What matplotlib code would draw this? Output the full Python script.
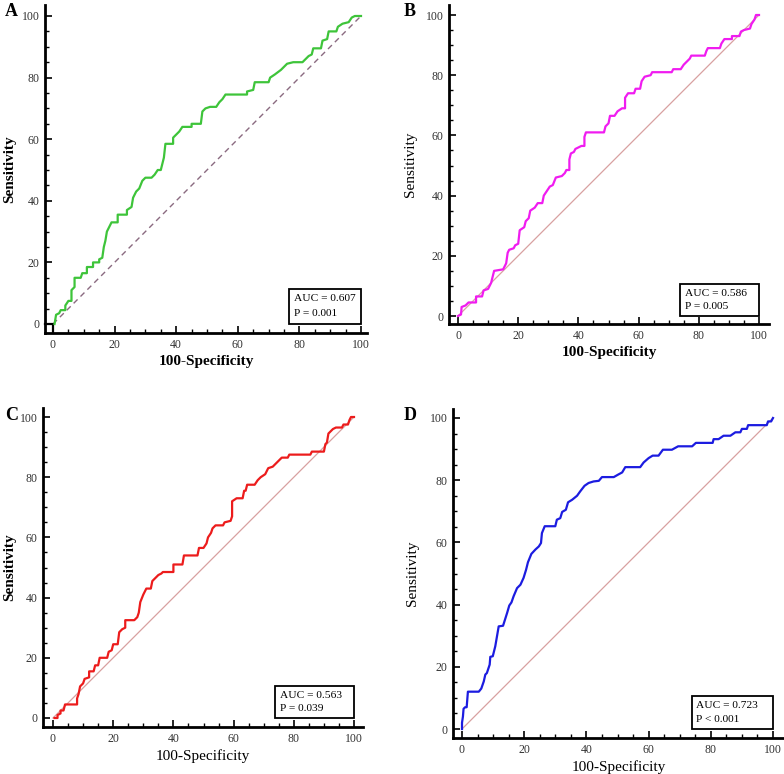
import matplotlib
matplotlib.use("Agg")
import matplotlib.pyplot as plt
from matplotlib.patches import Rectangle
from matplotlib.ticker import MultipleLocator

plt.rcParams['font.family'] = ['Liberation Serif', 'DejaVu Serif']

# Panel A - green ROC curve (100-Specificity, Sensitivity)
a_x = [0.5, 1, 2, 2.5, 4, 4, 5, 6, 6, 7, 7, 9, 9.5, 11, 11, 13, 13, 15, 15, 16, 16.5, 17, 17.5, 18.5, 19, 21, 21,
       24, 24, 25.5, 26, 27, 28, 29, 30, 32, 33, 34, 35, 36, 36.5, 39, 39, 40, 41, 42, 45, 45, 48, 48.5, 49.5, 51,
       53, 54, 55, 56, 63, 63, 65, 65.5, 70, 70.5, 72, 74, 75, 76, 78, 81, 82, 83, 84, 84.5, 87, 87.5, 89, 89.5,
       92, 92.5, 94, 96, 97, 98, 100]
a_y = [0, 3, 3.5, 4.5, 4.5, 6, 7.5, 7.5, 11, 12, 15, 15, 16.5, 16.5, 18.5, 18.5, 20, 20, 21, 21.5, 25, 27, 30, 32,
       33, 33, 35.5, 35.5, 37, 38, 41, 43, 44, 46.5, 47.5, 47.5, 48.5, 50, 50, 54, 58.5, 58.5, 60.5, 61.5, 62.5,
       64, 64, 65, 65, 69, 70, 70.5, 70.5, 72, 73, 74.5, 74.5, 75.5, 76, 78.5, 78.5, 80, 81, 82.5, 83.5, 84.5, 85,
       85, 86, 87, 87.5, 89.5, 89.5, 92, 92.5, 95, 95, 96.5, 97.5, 98, 99.5, 100, 100]

# Panel B - magenta ROC curve
b_x = [0, 1, 1.2, 2.5, 3, 3.5, 6, 6, 8, 8.5, 10, 11, 11.5, 12, 15, 15.5, 16, 16.5, 17, 18.5, 19, 20, 20.5, 22,
       22.5, 23.5, 24, 25.5, 26.5, 28, 28.5, 29.5, 30.5, 31.5, 32.5, 34.5, 35.5, 36, 37, 37, 37.5, 38.5, 39, 40,
       41, 42, 42, 42.5, 48.5, 49, 50, 50.5, 52, 53, 54.5, 55.5, 55.5, 56.5, 58.5, 59, 60.5, 61, 62, 64, 64.5,
       71, 71.5, 74, 75, 76, 77, 77.5, 82, 82.5, 83, 87, 87.5, 88.5, 91, 91, 93.5, 94, 95, 97, 97.5, 98.5, 99, 100]
b_y = [0, 0.5, 3, 3.5, 4, 4.5, 4.5, 6.5, 6.5, 8.5, 9, 11, 13, 15, 15.5, 16.5, 17.5, 21, 22, 22.5, 23.5, 24, 28.5,
       29.5, 31.5, 32.5, 35, 36, 37.5, 37.5, 40, 41.5, 43, 43.5, 46, 46.5, 47.5, 48.5, 48.5, 52, 54, 54.5, 55.5,
       56, 56.5, 56.5, 59.5, 61, 61, 63, 64, 66.5, 66.5, 68, 69, 69, 72.5, 74, 74, 75.5, 75.5, 78, 79.5, 80, 81,
       81, 82, 82, 83.5, 84.5, 85.5, 86.5, 86.5, 88, 89, 89, 90.5, 92, 92, 93, 93, 94.5, 95, 95.5, 97, 98.5, 100, 100]

# Panel C - red ROC curve
c_x = [0.5, 1.5, 1.5, 2.5, 2.5, 3.5, 4, 8, 8, 8.5, 9, 10, 10.5, 12, 12, 13.5, 14, 15, 15.5, 18, 18.5, 19.5, 20,
       21.5, 22, 23, 24, 24, 27, 28, 28.5, 29, 30, 31, 32.5, 33, 34, 35, 36, 36.5, 40, 40, 43, 43.5, 48, 48.5, 50,
       51, 51.5, 52.5, 53, 54, 56.5, 57, 59, 59.5, 59.5, 61, 63, 63.5, 64, 64.5, 67, 68, 69, 70.5, 71.5, 73, 74,
       76, 78, 78.5, 85.5, 86, 90, 90.5, 91, 91.5, 92.5, 93, 94, 96, 96.5, 98, 98.5, 99, 100]
c_y = [0, 0, 1, 1.5, 2.5, 2.5, 4.5, 4.5, 6.5, 8, 10.5, 11.5, 13, 13.5, 15.5, 15.5, 17.5, 17.5, 20, 20, 22, 22.5,
       24.5, 24.5, 28.5, 29.5, 30, 32.5, 32.5, 33.5, 35, 38.5, 41, 43, 43, 45.5, 46.5, 47.5, 48, 48.5, 48.5, 51,
       51, 54, 54, 56.5, 56.5, 58, 60, 61.5, 63, 64, 64, 65, 65.5, 67, 72, 73, 73, 75.5, 75.5, 77.5, 77.5, 79, 80,
       81, 83, 83.5, 84.5, 86.5, 86.5, 87.5, 87.5, 88.5, 88.5, 91, 91.5, 94.5, 95.5, 96, 96.5, 96.5, 97.5, 97.5,
       99, 100, 100]

# Panel D - blue ROC curve
d_x = [0, 0, 0.3, 0.5, 1, 1.5, 1.9, 5.4, 6.2, 7, 7.5, 8, 8.9, 9.1, 9.9, 10.7, 11.8, 13.2, 14.5, 15.2, 15.9, 16.6,
       17.7, 18.8, 19.8, 20.6, 21.2, 22.3, 23.6, 24.7, 25.4, 25.7, 26.6, 30, 30.5, 31.6, 32.2, 33.4, 34.1, 35.4,
       37, 38, 39.4, 40.7, 42.3, 44, 45, 48.8, 50.2, 51.5, 52.5, 57.3, 58.4, 60, 61.3, 63.2, 64.6, 67.5, 69.5, 74,
       75.2, 80.6, 80.9, 82.5, 84.1, 86.3, 87.9, 89.5, 90, 91.6, 92, 98, 98.4, 99.4, 100]
d_y = [0, 2, 4, 6.5, 7, 7, 12, 12, 13, 15.3, 17.5, 18, 20.7, 23.2, 23.4, 26.6, 33, 33.2, 37.3, 39.7, 40.7, 42.7,
       45.3, 46.4, 48.6, 51.2, 53.6, 56.3, 57.7, 58.7, 59.8, 63, 65.2, 65.2, 67.3, 67.8, 69.8, 70.5, 72.9, 73.7,
       75, 76.4, 78.2, 79.1, 79.6, 79.8, 81, 81, 81.8, 82.5, 84.2, 84.2, 85.7, 87.1, 87.9, 87.9, 89.8, 89.8, 90.9,
       90.9, 92, 92, 93.2, 93.2, 94.3, 94.3, 95.4, 95.4, 96.5, 96.5, 97.7, 97.7, 98.9, 98.9, 100]

panels = [
    # label, x, y, colour, auc text, p text, pixel frame, ylabel x (px), diagonal style
    ("A", a_x, a_y, "#3ec43a", "AUC = 0.607", "P = 0.001", (45, 53, 361, 367, 5, 16, 324, 333), 10, "dashed"),
    ("B", b_x, b_y, "#f01cf0", "AUC = 0.586", "P = 0.005", (449, 458, 759, 769, 5, 15, 316, 324), 410, "solid"),
    ("C", c_x, c_y, "#ec1c1c", "AUC = 0.563", "P = 0.039", (43, 53, 354, 363, 408, 417, 718, 727), 10, "solid"),
    ("D", d_x, d_y, "#1c1ce0", "AUC = 0.723", "P < 0.001", (453, 462, 773, 784, 409, 418, 729, 738), 412, "solid"),
]

W, H = 784, 774
fig = plt.figure(figsize=(W / 100, H / 100), dpi=100)

for label, xs, ys, col, auc, pv, frame, ylx, diag in panels:
    left, x0, x100, right, top, y100, y0, bottom = frame
    ax = fig.add_axes([left / W, 1 - bottom / H, (right - left) / W, (bottom - top) / H])
    sx = (x100 - x0) / 100
    sy = (y0 - y100) / 100
    xmin, xmax = -(x0 - left) / sx, 100 + (right - x100) / sx
    ymin, ymax = -(bottom - y0) / sy, 100 + (y100 - top) / sy

    if diag == "dashed":
        ax.plot([0, 100], [0, 100], color="#8a6a80", lw=1.0, ls=(0, (4, 3)))
        ax.plot([xmin, 0, 0], [0, 0, ymin], color="black", lw=1.6, clip_on=False)
    else:
        ax.plot([0, 100], [0, 100], color="#d8a0a0", lw=0.9)
    ax.plot(xs, ys, color=col, lw=1.6)

    for s in ["top", "right"]:
        ax.spines[s].set_visible(False)
    for s in ["left", "bottom"]:
        ax.spines[s].set_linewidth(2.0)
    ax.set_xticks([0, 20, 40, 60, 80, 100])
    ax.set_yticks([0, 20, 40, 60, 80, 100])
    ax.xaxis.set_minor_locator(MultipleLocator(5))
    ax.yaxis.set_minor_locator(MultipleLocator(5))
    ax.tick_params(which="major", direction="in", length=5, width=1.2, labelsize=8.5,
                   labelcolor="#333333", pad=4)
    ax.tick_params(which="minor", direction="in", length=3, width=1.0)
    ax.set_xlim(xmin, xmax)
    ax.set_ylim(ymin, ymax)

    ax.set_xlabel("100-Specificity", fontsize=11, fontweight="bold" if label in "AB" else "normal",
                  labelpad=3)
    ax.set_ylabel("Sensitivity", fontsize=11, fontweight="bold" if label in "AC" else "normal",
                  va="center")
    ax.yaxis.set_label_coords(ylx / W, 1 - (top + bottom) / 2 / H, transform=fig.transFigure)

    bx0 = 73.8 if label != "A" else 76.6
    bh = 10.6 if label != "A" else 11.4
    ax.add_patch(Rectangle((bx0, 0), 100 - bx0, bh, facecolor="white", edgecolor="black", lw=1.3, zorder=5))
    ax.text(bx0 + 1.5, bh * 0.72, auc, fontsize=8.2, va="center", ha="left", zorder=6)
    ax.text(bx0 + 1.5, bh * 0.3, pv, fontsize=8.2, va="center", ha="left", zorder=6)

    lx = 5 if left < 100 else 404
    fig.text(lx / W, 1 - (top + 7) / H, label, fontsize=13, fontweight="bold", ha="left", va="center")

fig.savefig("out.png", dpi=100)
